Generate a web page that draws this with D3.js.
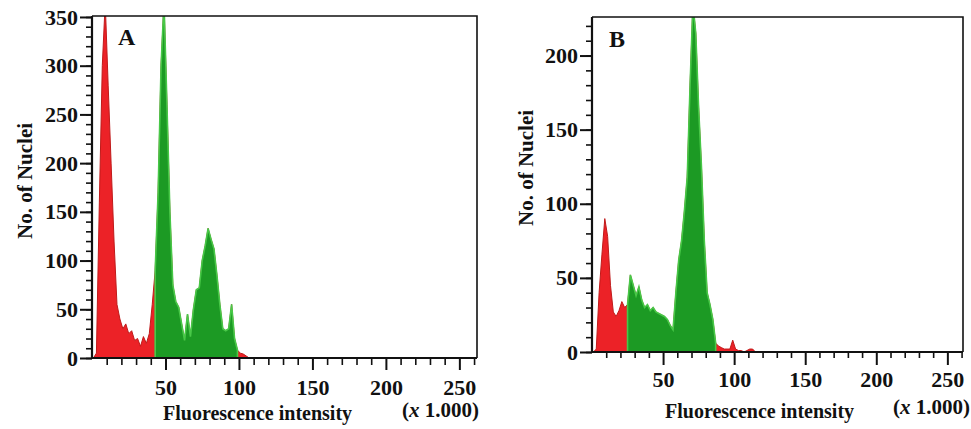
<!DOCTYPE html>
<html>
<head>
<meta charset="utf-8">
<script src="https://cdn.jsdelivr.net/npm/d3@7"></script>
<style>
  body { margin: 0; background: #fff; }
  text { font-family: "Liberation Serif", "Times New Roman", serif; font-weight: bold; fill: #111; }
</style>
</head>
<body>
<div id="chart"></div>
<script>
// histogram bins (x 1.000 fluorescence units), counts
var binsA = [1,3,5,7,9,11,13,15,17,19,21,23,25,27,29,31,33,35,37,39,41,43,45,47,49,51,53,55,57,59,
  61,63,65,67,69,71,73,75,77,79,81,83,85,87,89,91,93,95,97,99,101,103,105,107];
var countsA = [0,5,160,300,365,280,200,120,55,40,30,35,25,28,18,20,12,22,15,25,55,90,170,300,365,260,150,75,58,52,
  35,18,45,22,50,70,72,100,115,133,122,112,85,55,30,28,30,55,20,8,5,4,2,0];
var gateA = [42, 100];

var binsB = [1,3,5,7,9,11,13,15,17,19,21,23,25,27,29,31,33,35,37,39,41,43,45,47,49,51,53,55,57,59,
  61,63,65,67,69,71,73,75,77,79,81,83,85,87,89,91,93,95,97,99,101,103,105,107,109,111,113,115];
var countsB = [0,2,40,66,90,78,45,27,24,28,34,30,32,52,45,38,44,35,30,32,28,30,27,26,25,24,22,18,15,40,
  62,75,95,118,180,235,215,165,125,75,40,32,22,6,4,3,2,2,2,8,2,1,1,0,1,2,2,0];
var gateB = [24, 87];

var xMajorTicks = [50, 100, 150, 200, 250];
var xMinorTicks = [10,20,30,40,60,70,80,90,110,120,130,140,160,170,180,190,210,220,230,240,260];
var yMajorTicksA = [0, 50, 100, 150, 200, 250, 300, 350];
var yMajorTicksB = [0, 50, 100, 150, 200];

var width = 971, height = 429;

var svg = d3.select("#chart").append("svg")
  .attr("width", width)
  .attr("height", height);

function drawPanel(p) {
  var x = d3.scaleLinear().domain([0, p.xMax]).range([p.left, p.right]);
  var y = d3.scaleLinear().domain([0, p.yMax]).range([p.bottom, p.top]);

  var data = p.bins.map(function (b, i) { return { x: b, n: p.counts[i] }; });
  var gated = data.filter(function (d) { return d.x >= p.gate[0] && d.x <= p.gate[1]; });

  svg.append("clipPath").attr("id", "clip" + p.name)
    .append("rect")
    .attr("x", p.left).attr("y", p.top)
    .attr("width", p.right - p.left).attr("height", p.bottom - p.top);

  var area = d3.area()
    .x(function (d) { return x(d.x); })
    .y0(y(0))
    .y1(function (d) { return y(d.n); });

  var g = svg.append("g").attr("clip-path", "url(#clip" + p.name + ")");

  // red = whole histogram, green = gated region drawn on top
  g.append("path").datum(data)
    .attr("d", area)
    .attr("fill", "#ec2227")
    .attr("stroke", "#c01a1a")
    .attr("stroke-width", 1);

  g.append("path").datum(gated)
    .attr("d", area)
    .attr("fill", "#1c9a24")
    .attr("stroke", "#48c848")
    .attr("stroke-width", 1.6);

  // frame (top + right)
  svg.append("path")
    .attr("d", "M" + p.left + "," + p.top + "H" + p.right + "V" + p.bottom)
    .attr("fill", "none").attr("stroke", "#111").attr("stroke-width", 1.6);

  // x axis
  var xMinor = svg.append("g").attr("transform", "translate(0," + p.bottom + ")")
    .call(d3.axisBottom(x).tickValues(xMinorTicks).tickSize(p.minorLen).tickFormat(""));
  xMinor.select(".domain").remove();
  xMinor.selectAll("line").attr("stroke", "#111").attr("stroke-width", 1.6);

  var xMajor = svg.append("g").attr("transform", "translate(0," + p.bottom + ")")
    .call(d3.axisBottom(x).tickValues(xMajorTicks).tickSize(p.majorLen));
  xMajor.select(".domain").remove();
  xMajor.selectAll("line").attr("stroke", "#111").attr("stroke-width", 2);
  xMajor.selectAll("text")
    .attr("dy", null).attr("y", p.xLabelY)
    .attr("font-size", 22).attr("fill", "#111");

  // y axis
  var yMinor = svg.append("g").attr("transform", "translate(" + p.left + ",0)")
    .call(d3.axisLeft(y).tickValues(d3.range(0, p.yMax, 10)).tickSize(6).tickFormat(""));
  yMinor.select(".domain").remove();
  yMinor.selectAll("line").attr("stroke", "#111").attr("stroke-width", 1.6);

  var yMajor = svg.append("g").attr("transform", "translate(" + p.left + ",0)")
    .call(d3.axisLeft(y).tickValues(p.yTicks).tickSize(12).tickPadding(2));
  yMajor.select(".domain").remove();
  yMajor.selectAll("line").attr("stroke", "#111").attr("stroke-width", 2);
  yMajor.selectAll("text").attr("font-size", 22).attr("fill", "#111");

  // axis lines
  svg.append("path")
    .attr("d", "M" + p.left + "," + p.top + "V" + p.bottom + "H" + p.right)
    .attr("fill", "none").attr("stroke", "#111").attr("stroke-width", 2.2);

  // labels
  svg.append("text")
    .attr("x", p.letterX).attr("y", p.letterY)
    .attr("font-size", 24)
    .text(p.name);

  svg.append("text")
    .attr("transform", "translate(" + p.yTitleX + "," + p.yTitleY + ")rotate(-90)")
    .attr("text-anchor", "middle")
    .attr("font-size", 21)
    .text("No. of Nuclei");

  svg.append("text")
    .attr("x", p.xTitleX).attr("y", p.xTitleY)
    .attr("font-size", 20)
    .text("Fluorescence intensity");

  var unit = svg.append("text")
    .attr("x", p.unitX).attr("y", p.unitY)
    .attr("font-size", 21);
  unit.append("tspan").text("(");
  unit.append("tspan").attr("font-style", "italic").text("x");
  unit.append("tspan").text(" 1.000)");
}

drawPanel({
  name: "A", bins: binsA, counts: countsA, gate: gateA,
  left: 92, right: 477, top: 16, bottom: 358, xMax: 262, yMax: 351,
  yTicks: yMajorTicksA, majorLen: 12, minorLen: 7, xLabelY: 37,
  letterX: 118, letterY: 45,
  yTitleX: 32, yTitleY: 181,
  xTitleX: 163, xTitleY: 420,
  unitX: 402, unitY: 417
});

drawPanel({
  name: "B", bins: binsB, counts: countsB, gate: gateB,
  left: 592, right: 963, top: 17, bottom: 352, xMax: 261, yMax: 226,
  yTicks: yMajorTicksB, majorLen: 13, minorLen: 6, xLabelY: 35,
  letterX: 609, letterY: 47,
  yTitleX: 533, yTitleY: 168,
  xTitleX: 665, xTitleY: 418,
  unitX: 893, unitY: 414
});
</script>
</body>
</html>
